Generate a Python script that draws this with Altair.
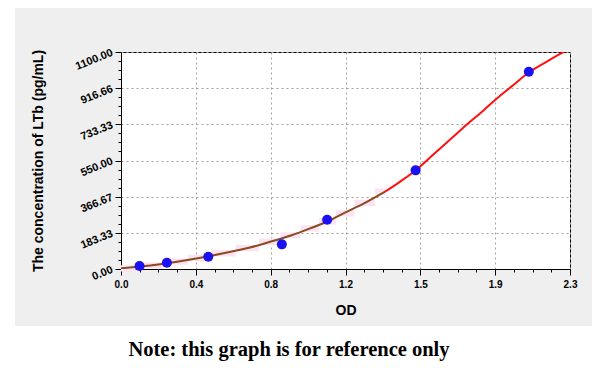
import altair as alt
import pandas as pd

# ---- data ----
std_od = [0.095, 0.235, 0.447, 0.824, 1.056, 1.509, 2.089]
std_conc = [15.6, 31.25, 62.5, 125, 250, 500, 1000]

fit_od_brown = [0.0, 0.15, 0.287, 0.40, 0.525, 0.65, 0.764, 0.87, 0.969, 1.06, 1.14, 1.25, 1.353]
fit_conc_brown = [3.5, 18, 37, 56, 80, 106, 138, 170, 206, 242, 282, 335, 392]
fit_od_red = [1.353, 1.43, 1.507, 1.6, 1.686, 1.772, 1.857, 1.925, 2.01, 2.087, 2.181, 2.275, 2.3]
fit_conc_red = [392, 443, 498, 580, 656, 732, 804, 864, 933, 995, 1051, 1104, 1116]

x_major = [0.0, 0.38333, 0.76667, 1.15, 1.53333, 1.91667, 2.3]
x_labels = ["0.0", "0.4", "0.8", "1.2", "1.5", "1.9", "2.3"]
y_major = [0.0, 183.33, 366.67, 550.0, 733.33, 916.66, 1100.0]
y_labels = ["0.00", "183.33", "366.67", "550.00", "733.33", "916.66", "1100.00"]

x_title = "OD"
y_title = "The concentration of LTb (pg/mL)"
note = "Note: this graph is for reference only"

# ---- tables ----
pts = pd.DataFrame({"od": std_od, "conc": std_conc})
brown = pd.DataFrame({"od": fit_od_brown, "conc": fit_conc_brown})
red = pd.DataFrame({"od": fit_od_red, "conc": fit_conc_red})
band = brown.assign(lo=brown["conc"] - 16, hi=brown["conc"] + 16)


def subdivide(major, n=4):
    vals = []
    for a, b in zip(major[:-1], major[1:]):
        for k in range(n):
            vals.append(round(a + (b - a) * k / n, 5))
    vals.append(major[-1])
    return vals


def js_list(v):
    return "[" + ",".join(repr(x) if not isinstance(x, str) else "'" + x + "'" for x in v) + "]"


def make_axis(major, labels, **kw):
    test = f"indexof({js_list(major)}, datum.value) >= 0"
    return alt.Axis(
        values=subdivide(major),
        labelExpr=f"{test} ? {js_list(labels)}[indexof({js_list(major)}, datum.value)] : ''",
        tickSize={"condition": {"test": test, "value": 6}, "value": 3},
        gridOpacity={"condition": {"test": test, "value": 1}, "value": 0},
        grid=True,
        gridColor="#a0a0a0",
        gridDash=[2, 3],
        gridWidth=1,
        domainColor="black",
        tickColor="black",
        labelFont="Liberation Sans",
        labelFontWeight="bold",
        labelColor="black",
        titleFont="Liberation Sans",
        titleFontWeight="bold",
        titleColor="black",
        labelOverlap=False,
        labelFlush=False,
        **kw,
    )


xaxis = make_axis(x_major, x_labels, labelFontSize=10, titleFontSize=14, labelPadding=4, titlePadding=14)
yaxis = make_axis(y_major, y_labels, labelFontSize=11, titleFontSize=14, labelAngle=338,
                  labelAlign="right", labelBaseline="middle", labelPadding=3, titlePadding=28)

xs = alt.Scale(domain=[0, 2.3], nice=False, zero=False)
ys = alt.Scale(domain=[0, 1100], nice=False, zero=False)

X = alt.X("od:Q", scale=xs, axis=xaxis, title=x_title)
Y = alt.Y("conc:Q", scale=ys, axis=yaxis, title=y_title)

one = pd.DataFrame({"t": [note]})

# white strips outside the gray panel
white_left = alt.Chart(one).mark_rect(color="white").encode(
    x=alt.value(-113), x2=alt.value(-106), y=alt.value(-44), y2=alt.value(313))
white_bottom = alt.Chart(one).mark_rect(color="white").encode(
    x=alt.value(-113), x2=alt.value(471), y=alt.value(274), y2=alt.value(313))

band_layer = alt.Chart(band).mark_area(color="#fce3f3", opacity=1, interpolate="step").encode(
    x=X, y=alt.Y("lo:Q", scale=ys, axis=yaxis, title=y_title), y2="hi:Q")
brown_layer = alt.Chart(brown).mark_line(color="#8c4a1e", strokeWidth=2, interpolate="monotone", clip=True).encode(x=X, y=Y)
red_layer = alt.Chart(red).mark_line(color="#ff1010", strokeWidth=2, interpolate="monotone", clip=True).encode(x=X, y=Y)
pts_layer = alt.Chart(pts).mark_point(filled=True, color="#1a10f0", size=100, opacity=1, shape="circle").encode(x=X, y=Y)

note_layer = alt.Chart(one).mark_text(
    font="Liberation Serif", fontWeight="bold", fontSize=20.5, color="black",
    align="center", baseline="middle").encode(
    text="t:N", x=alt.value(168), y=alt.value(298))

chart = alt.layer(
    white_left, white_bottom, band_layer, brown_layer, red_layer, pts_layer, note_layer
).properties(
    width=449, height=217,
    autosize=alt.AutoSizeParams(type="none"),
    padding={"left": 113, "top": 44, "right": 22, "bottom": 96},
    background="#efefef",
).configure_view(fill="white", stroke="black", strokeWidth=1)

chart.save("out.html", embed_options={"renderer": "svg", "actions": False})
